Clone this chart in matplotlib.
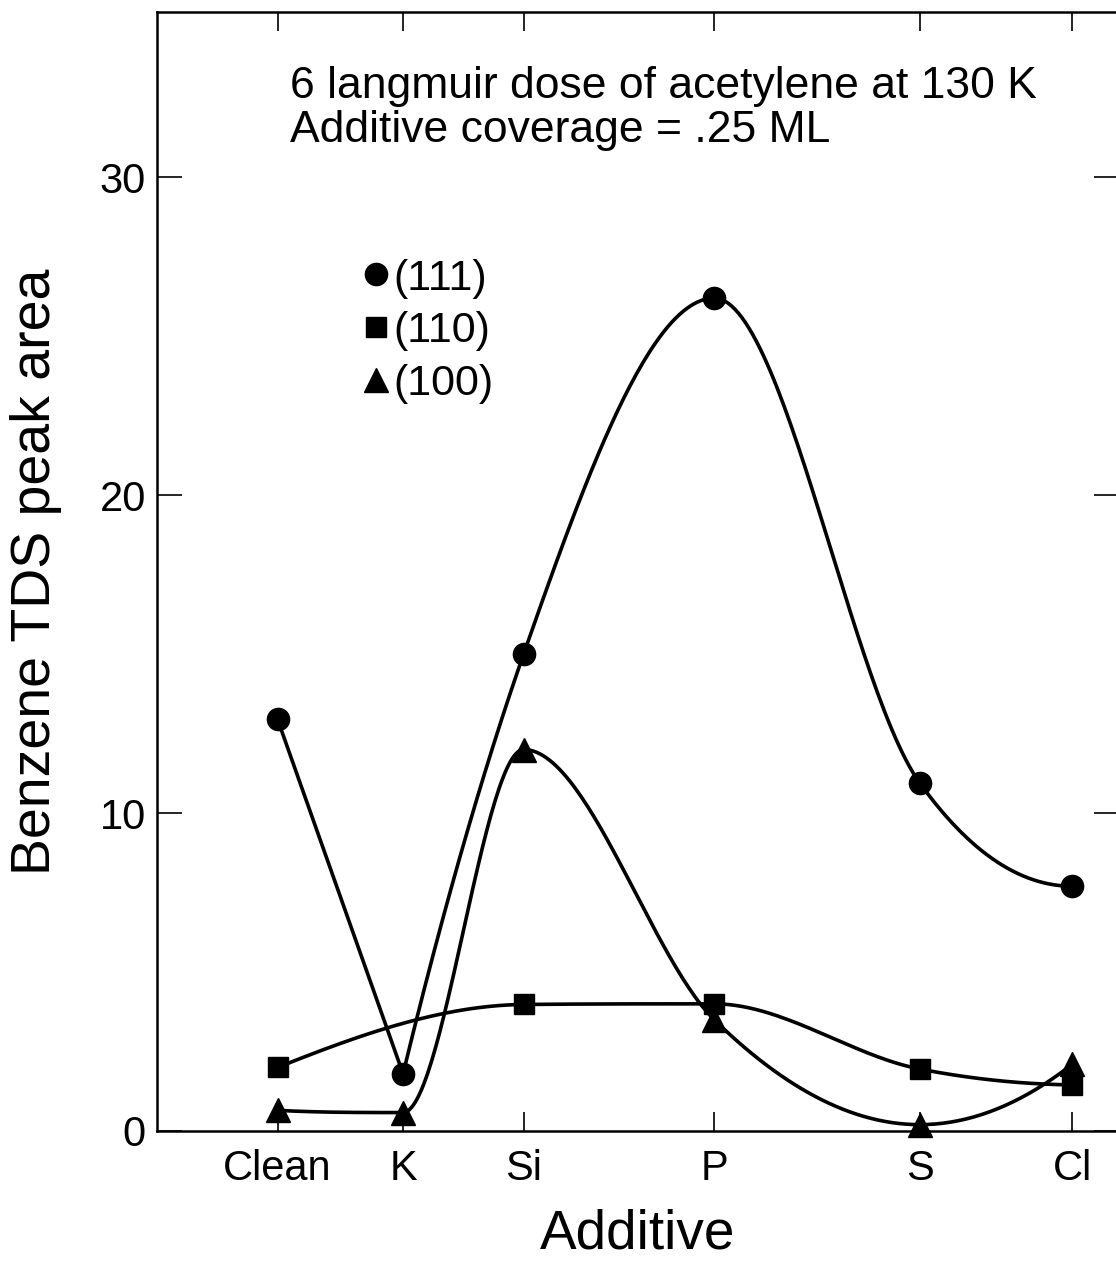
import numpy as np
import matplotlib
matplotlib.use("Agg")
import matplotlib.pyplot as plt
from matplotlib.lines import Line2D

plt.rcParams['font.family'] = ['Liberation Sans', 'DejaVu Sans']

# additive positions along the x axis (uneven spacing as in the original)
additives = ['Clean', 'K', 'Si', 'P', 'S', 'Cl']
additive_pos = [0.0, 1.02, 2.0, 3.55, 5.22, 6.46]

# benzene TDS peak area per surface
x_111 = [0.0, 1.02, 2.0, 3.55, 5.22, 6.46]
y_111 = [12.95, 1.8, 15.0, 26.2, 10.95, 7.7]
x_110 = [0.0, 2.0, 3.55, 5.22, 6.46]
y_110 = [2.0, 3.98, 4.0, 1.95, 1.45]
x_100 = [0.0, 1.02, 2.0, 3.55, 5.22, 6.46]
y_100 = [0.65, 0.58, 12.0, 3.5, 0.2, 2.1]


def slopes(x, y):
    # three point derivative, flattened at extrema and limited to avoid overshoot
    h = np.diff(x)
    d = np.diff(y) / h
    n = len(x)
    m = np.zeros(n)
    if n == 2:
        m[:] = d[0]
        return m
    for k in range(1, n - 1):
        if d[k - 1] * d[k] > 0:
            s = (h[k] * d[k - 1] + h[k - 1] * d[k]) / (h[k - 1] + h[k])
            lim = 3 * min(abs(d[k - 1]), abs(d[k]))
            m[k] = np.sign(s) * min(abs(s), lim)

    def end(h0, h1, d0, d1):
        s = ((2 * h0 + h1) * d0 - h0 * d1) / (h0 + h1)
        if np.sign(s) != np.sign(d0):
            s = 0.0
        elif np.sign(d0) != np.sign(d1) and abs(s) > abs(3 * d0):
            s = 3 * d0
        return s

    m[0] = end(h[0], h[1], d[0], d[1])
    m[-1] = end(h[-1], h[-2], d[-1], d[-2])
    return m


def smooth(xs, ys, n=60):
    xs = np.asarray(xs, float)
    ys = np.asarray(ys, float)
    m = slopes(xs, ys)
    px, py = [], []
    for i in range(len(xs) - 1):
        h = xs[i + 1] - xs[i]
        t = np.linspace(0, 1, n)
        h00 = 2 * t**3 - 3 * t**2 + 1
        h10 = t**3 - 2 * t**2 + t
        h01 = -2 * t**3 + 3 * t**2
        h11 = t**3 - t**2
        px.append(xs[i] + t * h)
        py.append(h00 * ys[i] + h10 * h * m[i] + h01 * ys[i + 1] + h11 * h * m[i + 1])
    return np.concatenate(px), np.concatenate(py)


fig = plt.figure(figsize=(11.16, 12.68), dpi=100)
ax = fig.add_axes([157 / 1116, 137 / 1268, 962 / 1116, 1119 / 1268])

lw = 2.6
# (111): straight from Clean to K, smooth from K onwards
ax.plot(x_111[:2], y_111[:2], color='black', lw=lw)
sx, sy = smooth(x_111[1:], y_111[1:])
ax.plot(sx, sy, color='black', lw=lw)
ax.plot(x_111, y_111, 'o', color='black', ms=16, clip_on=False)

sx, sy = smooth(x_110, y_110)
ax.plot(sx, sy, color='black', lw=lw)
ax.plot(x_110, y_110, 's', color='black', ms=15, clip_on=False)

sx, sy = smooth(x_100, y_100)
ax.plot(sx, sy, color='black', lw=lw)
ax.plot(x_100, y_100, '^', color='black', ms=17, clip_on=False)

ax.set_xlim(-0.98, 6.84)
ax.set_ylim(0, 35.2)
ax.set_xticks(additive_pos)
ax.set_xticklabels(additives)
ax.set_yticks([0, 10, 20, 30])

for s in ax.spines.values():
    s.set_linewidth(1.8)
ax.tick_params(direction='in', width=1.2, labelsize=30, colors='black')
ax.tick_params(axis='x', bottom=True, top=True, length=14, pad=13)
ax.tick_params(axis='y', left=True, right=True, length=18, pad=8)

ax.set_ylabel('Benzene TDS peak area', fontsize=40)
ax.yaxis.set_label_coords(-0.099, 0.5)
ax.set_xlabel('Additive', fontsize=39.5)
ax.xaxis.set_label_coords(0.5, -0.069)

ax.text(0.1387, 0.9231, '6 langmuir dose of acetylene at 130 K',
        transform=ax.transAxes, fontsize=32, va='baseline', ha='left')
ax.text(0.1387, 0.8838, 'Additive coverage = .25 ML',
        transform=ax.transAxes, fontsize=32, va='baseline', ha='left')

handles = [
    Line2D([], [], marker='o', color='black', ls='none', ms=16),
    Line2D([], [], marker='s', color='black', ls='none', ms=15),
    Line2D([], [], marker='^', color='black', ls='none', ms=17),
]
ax.legend(handles, ['(111)', '(110)', '(100)'], loc='upper left',
          bbox_to_anchor=(0.2143, 0.7797), frameon=False, fontsize=31,
          handlelength=0.6, handletextpad=0.1, labelspacing=0.3,
          borderpad=0, borderaxespad=0)

fig.savefig('out.png', dpi=100)
